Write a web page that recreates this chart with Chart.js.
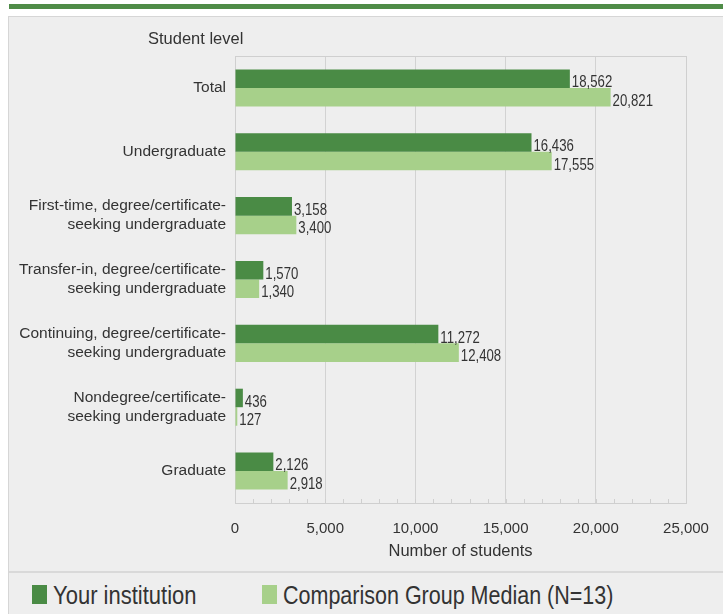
<!DOCTYPE html>
<html>
<head>
<meta charset="utf-8">
<script src="https://cdn.jsdelivr.net/npm/chart.js@4"></script>
<style>
  body { margin: 0; background: #fff; font-family: "Liberation Sans", Arial, sans-serif; }
  #topbar { position: absolute; left: 9px; top: 4px; width: 714px; height: 5px; background: #4f8c48; }
  #panel { position: absolute; left: 8px; top: 16px; width: 715px; height: 598px; background: #eeeeee;
           border-left: 1px solid #d6d6d6; border-top: 1px solid #d6d6d6; box-sizing: border-box; }
  #wrap { position: absolute; left: 8px; top: 16px; width: 715px; height: 556px; }
  #divider { position: absolute; left: 9px; top: 571px; width: 714px; height: 2px; background: #d9d9d9; }
  .box { position: absolute; top: 585px; width: 15px; height: 19px; }
  .ltext { position: absolute; top: 580px; font-size: 25px; line-height: 30px; color: #333;
           white-space: nowrap; transform: scaleX(0.88); transform-origin: left center; }
</style>
</head>
<body>
<div id="topbar"></div>
<div id="panel"></div>
<div id="wrap"><canvas id="myChart" width="715" height="556"></canvas></div>
<div id="divider"></div>
<div class="box" style="left:32px; background:#4a8b45"></div>
<div class="ltext" style="left:53px">Your institution</div>
<div class="box" style="left:262px; background:#a7d08a"></div>
<div class="ltext" style="left:283px; transform: scaleX(0.86)">Comparison Group Median (N=13)</div>
<script>
const labels = [
    'Total',
    'Undergraduate',
    ['First-time, degree/certificate-', 'seeking undergraduate'],
    ['Transfer-in, degree/certificate-', 'seeking undergraduate'],
    ['Continuing, degree/certificate-', 'seeking undergraduate'],
    ['Nondegree/certificate-', 'seeking undergraduate'],
    'Graduate',
];

const yourInstitution = [18562, 16436, 3158, 1570, 11272, 436, 2126];
const comparisonMedian = [20821, 17555, 3400, 1340, 12408, 127, 2918];

const xTicks = [0, 5000, 10000, 15000, 20000, 25000];

const font = 'Liberation Sans, Arial, sans-serif';
const textColor = '#333333';

// narrow-looking text: draw taller and squeeze horizontally
function narrowText(ctx, txt, x, y, size, squeeze) {
    ctx.save();
    ctx.font = size + 'px ' + font;
    ctx.translate(x, y);
    ctx.scale(squeeze, 1);
    ctx.fillText(txt, 0, 0);
    ctx.restore();
}

// value labels at the end of every bar
const valueLabels = {
    id: 'valueLabels',
    afterDatasetsDraw(chart) {
        const ctx = chart.ctx;
        ctx.save();
        ctx.fillStyle = textColor;
        ctx.textBaseline = 'middle';
        ctx.textAlign = 'left';
        chart.data.datasets.forEach((ds, i) => {
            chart.getDatasetMeta(i).data.forEach((bar, j) => {
                narrowText(ctx, ds.data[j].toLocaleString('en-US'), bar.x + 2, bar.y + 4, 16.5, 0.8);
            });
        });
        ctx.restore();
    }
};

// plot frame, minor ticks and the "Student level" heading
const frame = {
    id: 'frame',
    beforeDatasetsDraw(chart) {
        const ctx = chart.ctx;
        const a = chart.chartArea;
        const x = chart.scales.x;
        ctx.save();
        ctx.strokeStyle = '#cfcfcf';
        ctx.lineWidth = 1;
        ctx.strokeRect(a.left + 0.5, a.top + 0.5, a.right - a.left, a.bottom - a.top);
        ctx.beginPath();
        for (let v = 0; v <= 25000; v += 1000) {
            const px = Math.round(x.getPixelForValue(v)) + 0.5;
            ctx.moveTo(px, a.bottom);
            ctx.lineTo(px, a.bottom - 4);
        }
        ctx.stroke();
        ctx.restore();
    },
    afterDraw(chart) {
        const ctx = chart.ctx;
        ctx.save();
        ctx.fillStyle = textColor;
        ctx.textBaseline = 'middle';
        narrowText(ctx, 'Student level', chart.chartArea.left - 87, 23, 17, 0.97);
        ctx.restore();
    }
};

const data = {
    labels: labels,
    datasets: [{
        label: 'Your institution',
        backgroundColor: '#4a8b45',
        data: yourInstitution,
    }, {
        label: 'Comparison Group Median (N=13)',
        backgroundColor: '#a7d08a',
        data: comparisonMedian,
    }]
};

const config = {
    type: 'bar',
    data: data,
    options: {
        indexAxis: 'y',
        responsive: false,
        animation: false,
        barPercentage: 1,
        categoryPercentage: 0.58,
        layout: { padding: { top: 40, right: 37, left: 0, bottom: 11 } },
        plugins: {
            legend: { display: false },
            tooltip: { enabled: false },
        },
        scales: {
            x: {
                min: 0,
                max: 25000,
                afterBuildTicks: s => { s.ticks = xTicks.map(v => ({ value: v })); },
                afterFit: s => { s.height = 58; },
                grid: { color: '#d2d2d2', drawTicks: true, tickLength: 14, tickColor: 'rgba(0,0,0,0)' },
                border: { display: false },
                ticks: {
                    padding: 3,
                    color: textColor,
                    font: { family: font, size: 15 },
                    callback: v => v.toLocaleString('en-US'),
                },
                title: {
                    display: true,
                    text: 'Number of students',
                    color: textColor,
                    font: { family: font, size: 16.5 },
                    padding: { top: 2, bottom: 0 },
                },
            },
            y: {
                afterFit: s => { s.width = 227; },
                grid: { display: false },
                border: { display: false },
                ticks: {
                    padding: 1,
                    color: textColor,
                    font: { family: font, size: 15.5, lineHeight: 1.23 },
                },
            }
        }
    },
    plugins: [valueLabels, frame]
};

const myChart = new Chart(
    document.getElementById('myChart'),
    config
);
</script>
</body>
</html>
